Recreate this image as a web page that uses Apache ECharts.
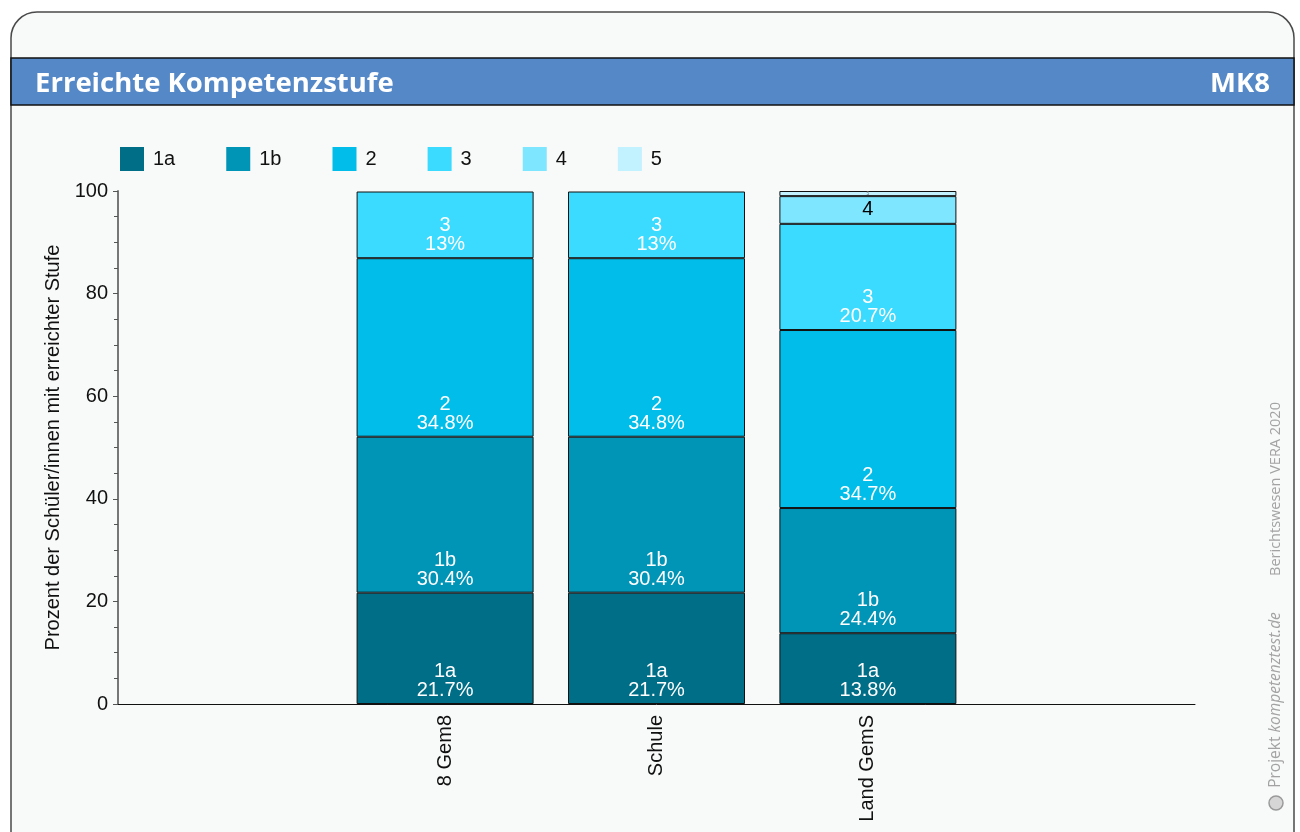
<!DOCTYPE html>
<html>
<head>
<meta charset="utf-8">
<script src="https://cdn.jsdelivr.net/npm/echarts@6/dist/echarts.min.js"></script>
<style>
  html, body { margin: 0; padding: 0; background: #ffffff; }
  #chart { width: 1300px; height: 832px; }
</style>
</head>
<body>
<div id="chart"></div>
<script>
// categories: empty slots left/right keep the three bars in the middle
const categories = ['', '8 Gem8', 'Schule', 'Land GemS', '']
const levelNames = ['1a', '1b', '2', '3', '4', '5']
const level1a = [null, 21.7, 21.7, 13.8, null]
const level1b = [null, 30.4, 30.4, 24.4, null]
const level2 = [null, 34.8, 34.8, 34.7, null]
const level3 = [null, 13, 13, 20.7, null]
const level4 = [null, null, null, 5.4, null]
const level5 = [null, null, null, 1.0, null]
const yTicks = [0, 20, 40, 60, 80, 100]

const levelData = [level1a, level1b, level2, level3, level4, level5]
const colors = ['#006e87', '#0094b7', '#00bee9', '#3bdaff', '#7fe6ff', '#c2f2ff']
const font = 'Liberation Sans, Arial, sans-serif'

const segLabel = (p) => {
  const v = p.value
  if (v == null) return ''
  if (v >= 10) return '{w|' + p.seriesName + '}\n{w|' + v + '%}'
  if (v >= 3) return '{b|' + p.seriesName + '}'
  return '{s|' + p.seriesName + '}'
}

const series = levelNames.map((name, i) => ({
  name: name,
  type: 'bar',
  stack: 'total',
  barWidth: 177,
  data: levelData[i],
  itemStyle: { color: colors[i], borderColor: '#111', borderWidth: 1 },
  label: {
    show: true,
    position: i < 4 ? 'insideBottom' : 'inside',
    distance: 4,
    formatter: segLabel,
    rich: {
      w: { color: '#ffffff', fontSize: 20, lineHeight: 19, fontFamily: font },
      b: { color: '#000000', fontSize: 20, lineHeight: 19, fontFamily: font },
      s: { color: '#777777', fontSize: 5, lineHeight: 5, fontFamily: font }
    }
  }
}))

const chart = echarts.init(document.getElementById('chart'))
chart.setOption({
  animation: false,
  backgroundColor: '#ffffff',
  textStyle: { fontFamily: font },
  color: colors,
  graphic: [
    {
      type: 'rect', z: -10,
      shape: { x: 11, y: 12, width: 1283, height: 850, r: 26 },
      style: { fill: '#f8f9f9', stroke: '#4a4a4a', lineWidth: 1.5 }
    },
    {
      type: 'rect', z: -5,
      shape: { x: 11, y: 58, width: 1283, height: 47 },
      style: { fill: '#5588c7', stroke: '#111', lineWidth: 1.5 }
    },
    {
      type: 'text', x: 35, y: 84,
      style: {
        text: 'Erreichte Kompetenzstufe', fill: '#ffffff', verticalAlign: 'middle',
        font: 'bold 27.5px "Open Sans", sans-serif'
      }
    },
    {
      type: 'text', x: 1270, y: 84,
      style: {
        text: 'MK8', fill: '#ffffff', align: 'right', verticalAlign: 'middle',
        font: 'bold 27.5px "Open Sans", sans-serif'
      }
    },
    {
      type: 'text', x: 1276, y: 489, rotation: Math.PI / 2,
      style: {
        text: 'Berichtswesen VERA 2020', fill: '#a3a3a3',
        font: '14.5px "Open Sans", sans-serif', align: 'center', verticalAlign: 'middle'
      }
    },
    {
      type: 'text', x: 1276, y: 700, rotation: Math.PI / 2,
      style: {
        text: 'Projekt {i|kompetenztest.de}', fill: '#a3a3a3',
        font: '15.5px "Open Sans", sans-serif', align: 'center', verticalAlign: 'middle',
        rich: { i: { fontStyle: 'italic', fontSize: 15.5, fontFamily: 'Open Sans', fill: '#a3a3a3' } }
      }
    },
    {
      type: 'circle', shape: { cx: 1276, cy: 803, r: 7 },
      style: { fill: '#d6d6d6', stroke: '#9a9a9a', lineWidth: 1.5 }
    }
  ],
  legend: {
    data: levelNames,
    left: 120,
    top: 147,
    padding: 0,
    itemWidth: 24,
    itemHeight: 24,
    itemGap: 51,
    icon: 'rect',
    itemStyle: { borderWidth: 0 },
    textStyle: { fontSize: 20, color: '#111', fontFamily: font, padding: [2, 0, 0, 4] }
  },
  grid: [
    { left: 128, right: 115, top: 191, bottom: 128 },
    { left: 118, right: 105, top: 191, bottom: 128 }
  ],
  xAxis: [
    {
      type: 'category',
      gridIndex: 0,
      data: categories,
      axisLine: { show: false },
      axisTick: {
        alignWithLabel: true, length: 6,
        interval: (idx, val) => val !== '',
        lineStyle: { color: '#111' }
      },
      axisLabel: {
        rotate: 90, fontSize: 20, color: '#111', margin: 11,
        interval: (idx, val) => val !== ''
      }
    },
    {
      type: 'value',
      gridIndex: 1,
      min: 0,
      max: 1,
      axisLine: { show: true, lineStyle: { color: '#111', width: 1 } },
      axisTick: { show: false },
      axisLabel: { show: false },
      splitLine: { show: false }
    }
  ],
  yAxis: [
    {
      type: 'value',
      gridIndex: 0,
      offset: 10,
      min: yTicks[0],
      max: yTicks[yTicks.length - 1],
      interval: 20,
      name: 'Prozent der Schüler/innen mit erreichter Stufe',
      nameLocation: 'middle',
      nameGap: 50,
      nameTextStyle: { fontSize: 20, color: '#111' },
      axisLine: { show: true, lineStyle: { color: '#777', width: 2 } },
      axisTick: { show: true, length: 5, lineStyle: { color: '#555' } },
      minorTick: { show: true, splitNumber: 4, length: 4, lineStyle: { color: '#555' } },
      splitLine: { show: false },
      axisLabel: { fontSize: 20, color: '#111', margin: 10 }
    },
    {
      type: 'value',
      gridIndex: 1,
      min: 0,
      max: 1,
      show: false
    }
  ],
  series: series
})
</script>
</body>
</html>
